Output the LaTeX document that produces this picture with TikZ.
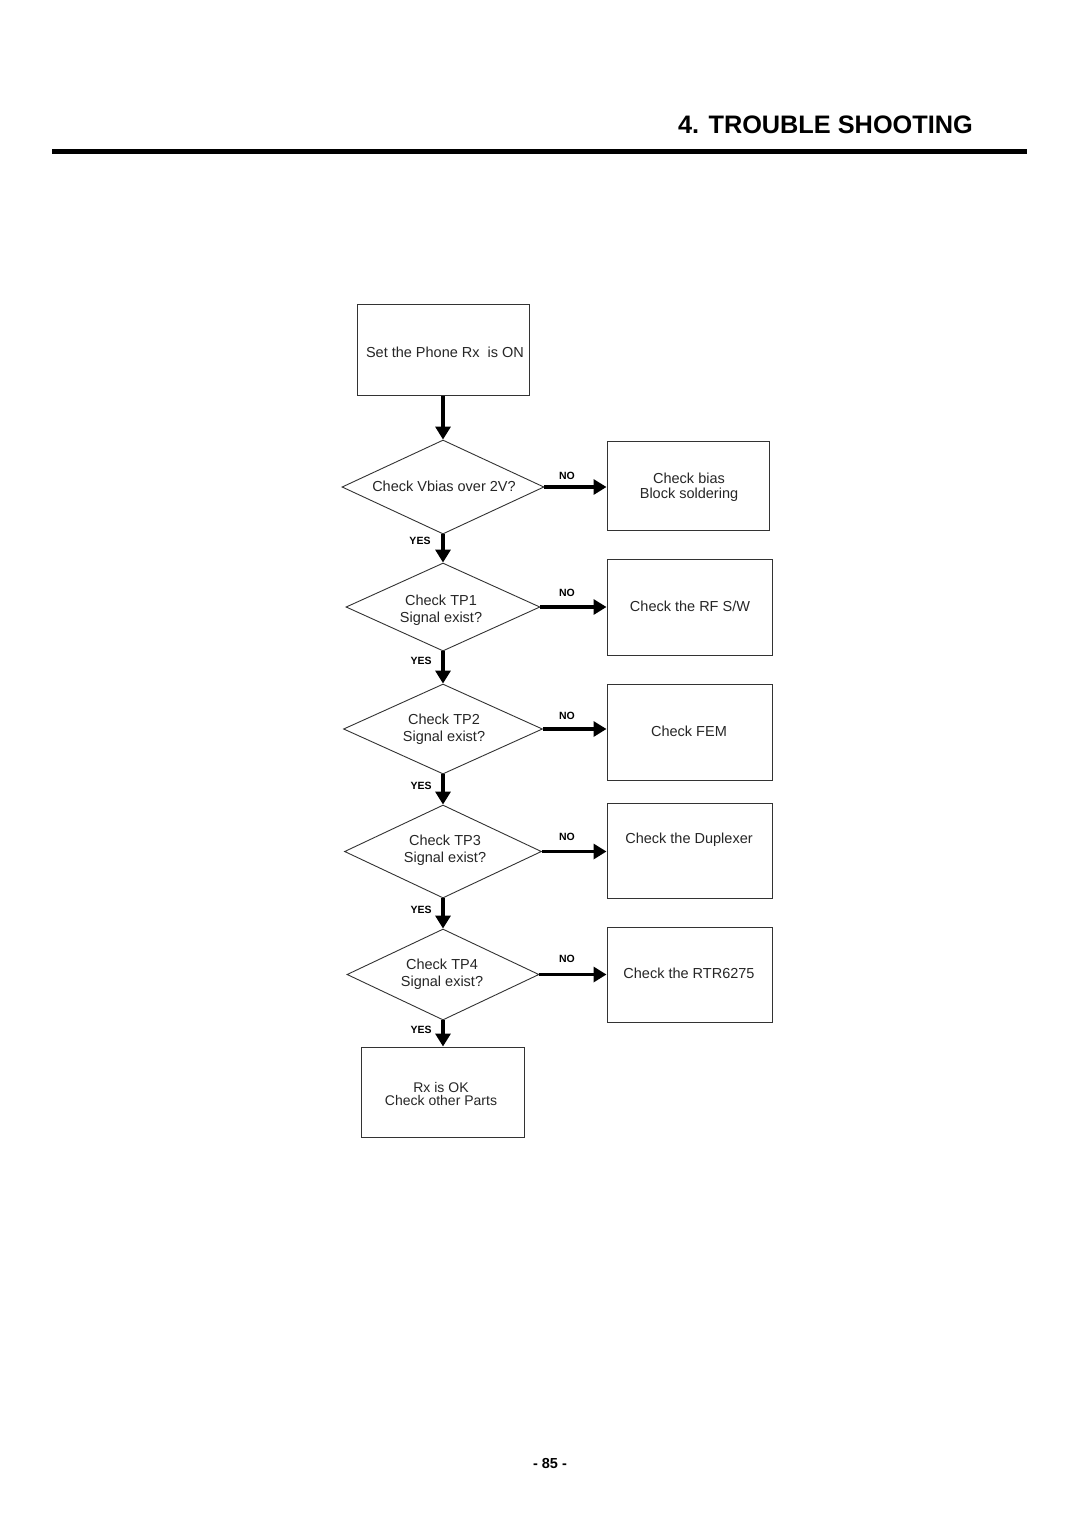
\documentclass[tikz,border=0pt]{standalone}
\usepackage{fontspec}
\setmainfont{Liberation Sans}
\usetikzlibrary{shapes.geometric,arrows.meta}
\begin{document}
\begin{tikzpicture}[x=1pt,y=-1pt,
  box/.style={draw=black!80, line width=1pt, rectangle, inner sep=0pt},
  dia/.style={draw=black!80, line width=0.9pt, diamond, inner sep=0pt},
  txt/.style={font=\fontsize{14.5}{17}\selectfont, text=black!85, align=center, inner sep=0pt},
  flow/.style={line width=3.8pt, -{Triangle[width=15pt,length=13pt]}},
  yn/.style={font=\bfseries\fontsize{10.5}{12}\selectfont, inner sep=0pt}]
\useasboundingbox (0,0) rectangle (1080,1526);
\fill[white] (0,0) rectangle (1080,1526);

% header
\node[font=\bfseries\fontsize{25.3}{30}\selectfont, anchor=base east, inner sep=0pt] (title) at (973,133) {4. TROUBLE SHOOTING};
\coordinate (rl) at (52,151.5);
\coordinate (rr) at (1027,151.5);
\draw[line width=5pt] (rl) -- (rr);

% left column
\node[box, minimum width=172pt, minimum height=91pt] (b1) at (443,349.5) {};
\node[txt] (t1) at (445,352) {Set the Phone Rx\ \ is ON};

\node[dia, minimum width=202pt, minimum height=94pt] (d1) at (443,487) {};
\node[txt] (td1) at (444,486) {Check Vbias over 2V?};

\node[dia, minimum width=194pt, minimum height=88pt] (d2) at (443,607) {};
\node[txt] (td2) at (441,610) {Check TP1\\Signal exist?};

\node[dia, minimum width=199pt, minimum height=90pt] (d3) at (443,729) {};
\node[txt] (td3) at (444,729) {Check TP2\\Signal exist?};

\node[dia, minimum width=197pt, minimum height=93pt] (d4) at (443,851.5) {};
\node[txt] (td4) at (445,850) {Check TP3\\Signal exist?};

\node[dia, minimum width=192pt, minimum height=91pt] (d5) at (443,974.5) {};
\node[txt] (td5) at (442,974) {Check TP4\\Signal exist?};

\node[box, minimum width=163pt, minimum height=90pt] (e) at (443,1092) {};
\node[txt, font=\fontsize{14}{13}\selectfont] (te) at (441,1094) {Rx is OK\\Check other Parts};

% right column
\node[box, minimum width=162pt, minimum height=89pt] (n1) at (688,485.5) {};
\node[txt, font=\fontsize{14.5}{15.5}\selectfont] (tn1) at (689,487) {Check bias\\Block soldering};

\node[box, minimum width=165pt, minimum height=96pt] (n2) at (689.5,607) {};
\node[txt] (tn2) at (690,606) {Check the RF S/W};

\node[box, minimum width=165pt, minimum height=96pt] (n3) at (689.5,732) {};
\node[txt] (tn3) at (689,731) {Check FEM};

\node[box, minimum width=165pt, minimum height=95pt] (n4) at (689.5,850.5) {};
\node[txt] (tn4) at (689,840) {Check the Duplexer};

\node[box, minimum width=165pt, minimum height=95pt] (n5) at (689.5,974.5) {};
\node[txt] (tn5) at (689,973) {Check the RTR6275};

% vertical flow
\draw[flow] (b1.south) -- (d1.north);
\draw[flow] (d1.south) -- (d2.north);
\draw[flow] (d2.south) -- (d3.north);
\draw[flow] (d3.south) -- (d4.north);
\draw[flow] (d4.south) -- (d5.north);
\draw[flow] (d5.south) -- (e.north);

% NO branches
\draw[flow] (d1.east) -- (d1.east -| n1.west);
\draw[flow] (d2.east) -- (d2.east -| n2.west);
\draw[flow] (d3.east) -- (d3.east -| n3.west);
\draw[flow] (d4.east) -- (d4.east -| n4.west);
\draw[flow] (d5.east) -- (d5.east -| n5.west);

% labels
\node[yn] (no1) at (567,476) {NO};
\node[yn] (no2) at (567,593) {NO};
\node[yn] (no3) at (567,716) {NO};
\node[yn] (no4) at (567,837) {NO};
\node[yn] (no5) at (567,959) {NO};
\node[yn] (y1) at (420,541) {YES};
\node[yn] (y2) at (421,661) {YES};
\node[yn] (y3) at (421,786) {YES};
\node[yn] (y4) at (421,910) {YES};
\node[yn] (y5) at (421,1030) {YES};

% page number
\node[font=\bfseries\fontsize{14.5}{16}\selectfont, inner sep=0pt] (pg) at (550,1463) {- 85 -};
\end{tikzpicture}
\end{document}
